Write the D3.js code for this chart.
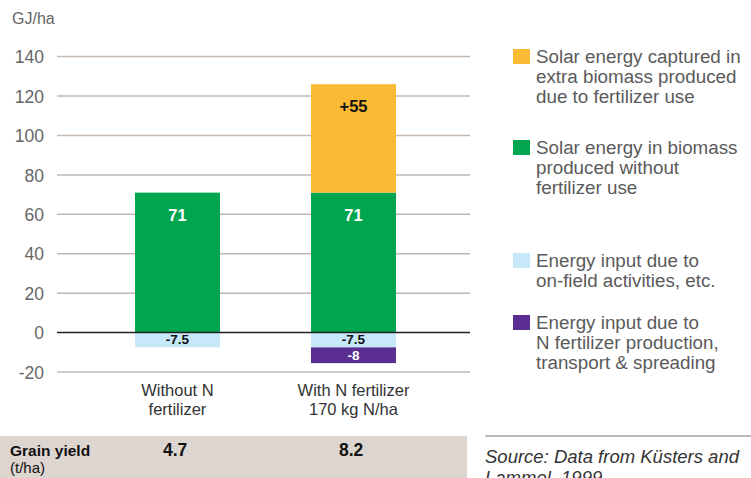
<!DOCTYPE html>
<html><head><meta charset="utf-8">
<script src="https://cdn.jsdelivr.net/npm/d3@7"></script>
<style>
html,body{margin:0;padding:0;background:#fff;overflow:hidden}
svg{display:block;font-family:"Liberation Sans",Arial,sans-serif}
</style></head><body>
<svg id="chart" width="751" height="478"></svg>
<script>
// ---- data ----
const categories = ["without", "with"];
const categoryLabels = [["Without N", "fertilizer"], ["With N fertilizer", "170 kg N/ha"]];
const solarBase = [71, 71];
const solarExtra = [0, 55];
const onField = [-7.5, -7.5];
const fertInput = [0, -8];
const grainYield = ["4.7", "8.2"];
const yTicks = [-20, 0, 20, 40, 60, 80, 100, 120, 140];
const legendLabels = [
  ["Solar energy captured in", "extra biomass produced", "due to fertilizer use"],
  ["Solar energy in biomass", "produced without", "fertilizer use"],
  ["Energy input due to", "on-field activities, etc."],
  ["Energy input due to", "N fertilizer production,", "transport & spreading"]
];
const colors = {extra: "#FBBA33", base: "#00A64F", field: "#C7E8F8", fert: "#5B2F91"};

// ---- drawing ----
const svg = d3.select("#chart");
const y = d3.scaleLinear().domain([-20, 140]).range([372, 56.6]);
const x = d3.scaleBand().domain(categories).range([44, 487]).paddingInner(0.517).paddingOuter(0.517);

// y label
svg.append("text").attr("x", 12).attr("y", 24).attr("fill", "#666").attr("font-size", 16).text("GJ/ha");

// gridlines + tick labels
const axis = d3.axisLeft(y).tickValues(yTicks).tickFormat(d => String(d)).tickSize(0).tickPadding(0);
const gAxis = svg.append("g").attr("transform", "translate(44,0)").call(axis);
gAxis.select(".domain").remove();
gAxis.selectAll("text").attr("font-size", 17.5).attr("fill", "#666").attr("font-family", "Liberation Sans, Arial, sans-serif").attr("dy", "0.35em");
svg.append("g").selectAll("line").data(yTicks.filter(d => d !== 0)).join("line")
  .attr("x1", 57).attr("x2", 470).attr("y1", d => y(d)).attr("y2", d => y(d))
  .attr("stroke", "#c2b8b0").attr("stroke-width", 1.5);

// stacks
const segs = [];
categories.forEach((c, i) => {
  segs.push({c, y0: 0, y1: solarBase[i], color: colors.base, label: String(solarBase[i]), tc: "#fff", top: true});
  if (solarExtra[i]) segs.push({c, y0: solarBase[i], y1: solarBase[i] + solarExtra[i], color: colors.extra, label: "+" + solarExtra[i], tc: "#111", top: true});
  segs.push({c, y0: onField[i], y1: 0, color: colors.field, label: String(onField[i]), tc: "#111", small: true});
  if (fertInput[i]) segs.push({c, y0: onField[i] + fertInput[i], y1: onField[i], color: colors.fert, label: String(fertInput[i]), tc: "#fff", small: true});
});
svg.append("g").selectAll("rect").data(segs).join("rect")
  .attr("x", d => x(d.c)).attr("width", x.bandwidth())
  .attr("y", d => y(d.y1)).attr("height", d => y(d.y0) - y(d.y1))
  .attr("fill", d => d.color);
svg.append("g").selectAll("text").data(segs).join("text")
  .attr("x", d => x(d.c) + x.bandwidth() / 2)
  .attr("y", d => d.top ? y(d.y1) + 28 : (y(d.y0) + y(d.y1)) / 2 + 4.5)
  .attr("text-anchor", "middle").attr("font-weight", "bold")
  .attr("font-size", d => d.small ? 13.5 : 16.5).attr("fill", d => d.tc)
  .text(d => d.label);

// zero line
svg.append("line").attr("x1", 57).attr("x2", 470).attr("y1", y(0)).attr("y2", y(0)).attr("stroke", "#222").attr("stroke-width", 1.5);

// category labels
categories.forEach((c, i) => {
  const t = svg.append("text").attr("x", x(c) + x.bandwidth() / 2).attr("y", 396)
    .attr("text-anchor", "middle").attr("font-size", 16.5).attr("fill", "#333");
  categoryLabels[i].forEach((l, k) => t.append("tspan").attr("x", x(c) + x.bandwidth() / 2).attr("dy", k ? 19 : 0).text(l));
});

// legend
const legColors = [colors.extra, colors.base, colors.field, colors.fert];
const legTops = [49, 140, 253, 315];
legendLabels.forEach((lines, i) => {
  svg.append("rect").attr("x", 513).attr("y", legTops[i]).attr("width", 17).attr("height", 15).attr("fill", legColors[i]);
  const t = svg.append("text").attr("x", 536).attr("y", legTops[i] + 14).attr("font-size", 18.8).attr("fill", "#5a5a5a");
  lines.forEach((l, k) => t.append("tspan").attr("x", 536).attr("dy", k ? 19.8 : 0).text(l));
});

// grain yield band
svg.append("rect").attr("x", 0).attr("y", 436).attr("width", 467).attr("height", 42).attr("fill", "#DDD5CF");
svg.append("text").attr("x", 10).attr("y", 456).attr("font-size", 15.5).attr("font-weight", "bold").attr("fill", "#111").text("Grain yield");
svg.append("text").attr("x", 10).attr("y", 473).attr("font-size", 15).attr("fill", "#111").text("(t/ha)");
categories.forEach((c, i) => {
  svg.append("text").attr("x", x(c) + 28).attr("y", 456).attr("font-size", 17.5).attr("font-weight", "bold").attr("fill", "#111").text(grainYield[i]);
});

// source
svg.append("line").attr("x1", 485).attr("x2", 751).attr("y1", 436).attr("y2", 436).attr("stroke", "#777").attr("stroke-width", 1);
const src = svg.append("text").attr("x", 485).attr("y", 463).attr("font-size", 18.5).attr("font-style", "italic").attr("fill", "#333");
src.append("tspan").attr("x", 485).text("Source: Data from Küsters and");
src.append("tspan").attr("x", 485).attr("dy", 21).text("Lammel, 1999");
</script>
</body></html>
